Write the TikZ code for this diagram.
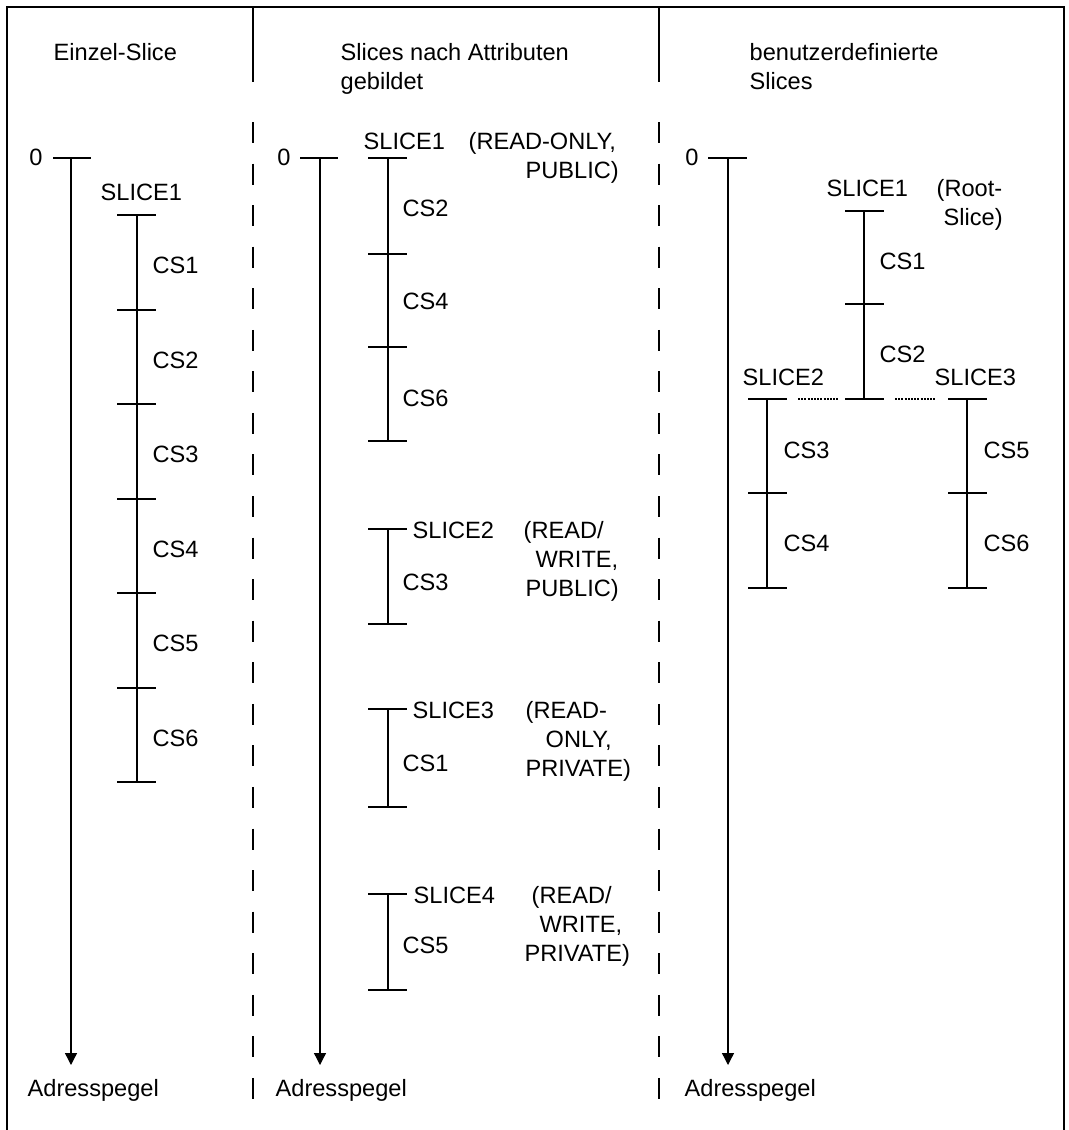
\documentclass[tikz,border=0pt]{standalone}
\usepackage{fontspec}
\setmainfont{Liberation Sans}
\usetikzlibrary{arrows.meta}

\begin{document}
\begin{tikzpicture}[x=0.5pt, y=-0.5pt, line width=0.65pt,
    >={Triangle[length=6pt,width=6pt]},
    every node/.style={inner sep=0pt, anchor=base west,
      font=\fontsize{11.8}{14.5}\selectfont},
    divider/.style={dash pattern=on 10.5pt off 10.28pt},
    dotline/.style={dash pattern=on 1pt off 0.6pt},
    attr/.style={align=left}]
    \useasboundingbox (0,0) rectangle (1069,1130);

    % frame and column dividers
    \draw[line width=1pt] (7,1130) -- (7,7) -- (1064,7) -- (1064,1130);
    \draw (253,7) -- (253,82);
    \draw[divider] (253,122) -- (253,1099);
    \draw (659,7) -- (659,82);
    \draw[divider] (659,122) -- (659,1099);

    % titles (multi-line nodes sit on their last line)
    \node (titleA) at (53,60.5) {Einzel-Slice};
    \node[align=left] (titleB) at (340,89.5) {Slices nach Attributen\\gebildet};
    \node[align=left] (titleC) at (749,89.5) {benutzerdefinierte\\Slices};

    % address axes
    \node[anchor=base] (zeroA) at (36,165.5) {0};
    \node[anchor=base] (zeroB) at (284,165.5) {0};
    \node[anchor=base] (zeroC) at (692,165.5) {0};
    \coordinate (axA) at (71,158);
    \coordinate (axB) at (320,158);
    \coordinate (axC) at (728,158);
    \node (endA) at (27,1096) {Adresspegel};
    \node (endB) at (275,1096) {Adresspegel};
    \node (endC) at (684,1096) {Adresspegel};
    \draw (53,158) -- (91,158) (300,158) -- (338,158) (708,158) -- (747,158);
    \draw[->] (axA) -- (axA |- 0,1065);
    \draw[->] (axB) -- (axB |- 0,1065);
    \draw[->] (axC) -- (axC |- 0,1065);

    % Einzel-Slice
    \node (sliceA) at (100,200) {SLICE1};
    \draw (137,215) -- (137,782);
    \draw (117,215) -- +(39,0) (117,310) -- +(39,0) (117,404) -- +(39,0)
      (117,499) -- +(39,0) (117,593) -- +(39,0) (117,688) -- +(39,0)
      (117,782) -- +(39,0);
    \node (csA1) at (152,273.5) {CS1};
    \node (csA2) at (152,368.5) {CS2};
    \node (csA3) at (152,462.5) {CS3};
    \node (csA4) at (152,557.5) {CS4};
    \node (csA5) at (152,651.5) {CS5};
    \node (csA6) at (152,746.5) {CS6};

    % Slices nach Attributen
    \node (sliceB1) at (363,149) {SLICE1};
    \node[attr] (attrB1) at (468,178) {(READ-ONLY,\\\hspace*{28.5pt}PUBLIC)};
    \draw (388,158) -- (388,441);
    \draw (368,158) -- +(39,0) (368,254) -- +(39,0) (368,347) -- +(39,0)
      (368,441) -- +(39,0);
    \node (csB2) at (402,216.5) {CS2};
    \node (csB4) at (402,309.5) {CS4};
    \node (csB6) at (402,406.5) {CS6};

    \node (sliceB2) at (412,538.5) {SLICE2};
    \node[attr] (attrB2) at (523,596.5) {(READ/\\\hspace*{6pt}WRITE,\\\hspace*{1pt}PUBLIC)};
    \draw (388,529) -- (388,624);
    \draw (368,529) -- +(39,0) (368,624) -- +(39,0);
    \node (csB3) at (402,590.5) {CS3};

    \node (sliceB3) at (412,718.5) {SLICE3};
    \node[attr] (attrB3) at (525,776.5) {(READ-\\\hspace*{10pt}ONLY,\\PRIVATE)};
    \draw (388,709) -- (388,807);
    \draw (368,709) -- +(39,0) (368,807) -- +(39,0);
    \node (csB1) at (402,771.5) {CS1};

    \node (sliceB4) at (413,903.5) {SLICE4};
    \node[attr] (attrB4) at (524,961.5) {\hspace*{3.5pt}(READ/\\\hspace*{7.5pt}WRITE,\\PRIVATE)};
    \draw (388,894) -- (388,990);
    \draw (368,894) -- +(39,0) (368,990) -- +(39,0);
    \node (csB5) at (402,953.5) {CS5};

    % benutzerdefinierte Slices
    \node (sliceC1) at (826,196.5) {SLICE1};
    \node[attr] (attrC1) at (936,225.5) {(Root-\\\hspace*{3.5pt}Slice)};
    \draw (864,211) -- (864,399);
    \draw (845,211) -- +(39,0) (845,304) -- +(39,0) (845,399) -- +(39,0);
    \node (csC1) at (879,269.5) {CS1};
    \node (csC2) at (879,362.5) {CS2};

    \node (sliceC2) at (742,385.5) {SLICE2};
    \draw (767,399) -- (767,588);
    \draw (748,399) -- +(39,0) (748,493) -- +(39,0) (748,588) -- +(39,0);
    \node (csC3) at (783,458.5) {CS3};
    \node (csC4) at (783,551.5) {CS4};

    \node (sliceC3) at (934,385.5) {SLICE3};
    \draw (967,399) -- (967,588);
    \draw (948,399) -- +(39,0) (948,493) -- +(39,0) (948,588) -- +(39,0);
    \node (csC5) at (983,458.5) {CS5};
    \node (csC6) at (983,551.5) {CS6};

    \draw[dotline] (798,399) -- (838,399) (895,399) -- (935,399);
\end{tikzpicture}
\end{document}
